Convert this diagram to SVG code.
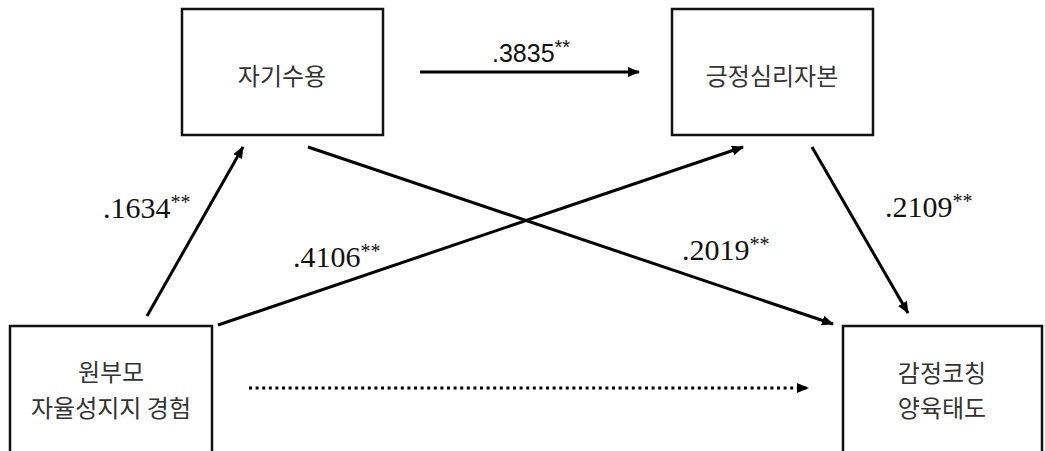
<svg xmlns="http://www.w3.org/2000/svg" width="1045" height="451" viewBox="0 0 1045 451">
<style>
.box{fill:#fff;stroke:#111;stroke-width:2.5}
.kt{font-family:"Noto Sans CJK KR","Noto Sans",sans-serif;font-size:24px;fill:#333;text-anchor:middle}
.ln{stroke:#000;stroke-width:3;fill:none}
.dot{stroke:#000;stroke-width:3;fill:none;stroke-dasharray:3 3.6}
.num{font-family:"Liberation Serif",serif;font-size:30px;fill:#111}
.nums{font-family:"Liberation Sans",Arial,sans-serif;font-size:25px;fill:#111}
.sup{font-size:20px}
</style>
<defs>
<marker id="ah" markerUnits="userSpaceOnUse" markerWidth="12" markerHeight="10" refX="11" refY="5" orient="auto">
<path d="M0,0 L12,5 L0,10 Z" fill="#000"/>
</marker>
</defs>
<g id="connectors">
<line class="ln" x1="420" y1="72" x2="639" y2="72" marker-end="url(#ah)"/>
<line class="ln" x1="147" y1="316" x2="243" y2="147" marker-end="url(#ah)"/>
<line class="ln" x1="308" y1="147" x2="833" y2="324" marker-end="url(#ah)"/>
<line class="ln" x1="218" y1="325" x2="743" y2="147" marker-end="url(#ah)"/>
<line class="ln" x1="812" y1="147" x2="908" y2="313" marker-end="url(#ah)"/>
<line class="dot" x1="249" y1="388" x2="808" y2="388" marker-end="url(#ah)"/>
</g>
<g id="labels">
<text class="nums" x="492" y="62">.3835<tspan class="sup" dy="-8">**</tspan></text>
<text class="num" x="103" y="218">.1634<tspan class="sup" dy="-9">**</tspan></text>
<text class="num" x="293" y="267">.4106<tspan class="sup" dy="-9">**</tspan></text>
<text class="num" x="682" y="260">.2019<tspan class="sup" dy="-9">**</tspan></text>
<text class="num" x="885" y="217">.2109<tspan class="sup" dy="-9">**</tspan></text>
</g>
<g id="n1">
<rect class="box" x="182" y="9" width="201" height="126"/>
<text class="kt" x="282" y="85">자기수용</text>
</g>
<g id="n2">
<rect class="box" x="672" y="9" width="201" height="126"/>
<text class="kt" x="772" y="85">긍정심리자본</text>
</g>
<g id="n3">
<rect class="box" x="10" y="326" width="202" height="140"/>
<text class="kt" x="111" y="381">원부모</text>
<text class="kt" x="111" y="417">자율성지지 경험</text>
</g>
<g id="n4">
<rect class="box" x="843" y="326" width="199" height="140"/>
<text class="kt" x="942" y="382">감정코칭</text>
<text class="kt" x="942" y="417">양육태도</text>
</g>
</svg>
